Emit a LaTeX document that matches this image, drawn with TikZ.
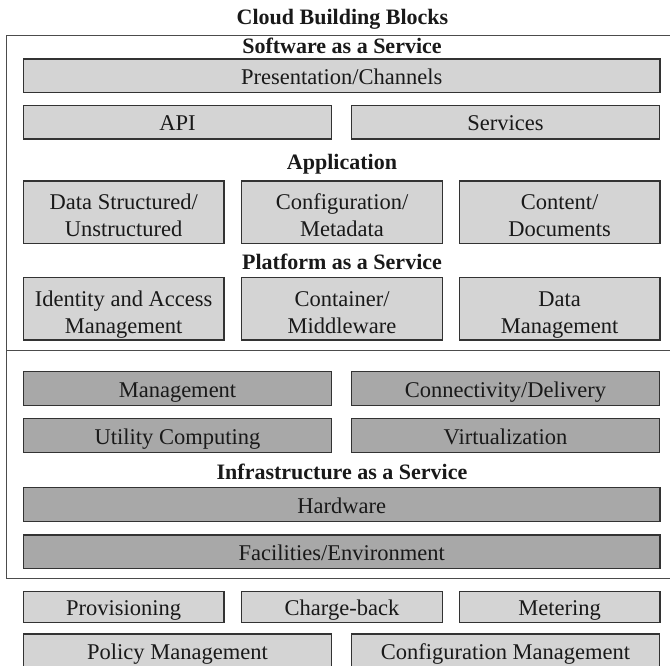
\documentclass[tikz,border=0pt]{standalone}
\usepackage{fontspec}
\setmainfont{Liberation Serif}
\usepackage{tikz}
\newcommand\topstrut{\rule{0pt}{27.3pt}}
\newcommand\botstrut{\rule[-5pt]{0pt}{5pt}}

\begin{document}
\begin{tikzpicture}[
        x=1pt, y=-1pt,
        block/.style={rectangle, draw=black!80, line width=1.2pt, align=center, inner sep=0pt, text=black!90, font=\fontsize{22.5}{27}\selectfont},
        lightblock/.style={block, fill=black!17},
        darkblock/.style={block, fill=black!34},
        oneline/.style={text height=18pt, text depth=0.5pt},
        full/.style={oneline, minimum width=636.7pt},
        half/.style={oneline, minimum width=308.5pt},
        third/.style={minimum width=200.7pt},
        layer/.style={oneline, inner sep=0pt, text=black!90, font=\fontsize{22}{26}\selectfont\bfseries},
        frame/.style={draw=black!70, line width=1.2pt}
    ]
        \path[use as bounding box, clip] (0,0) rectangle (670,665);

        \draw[frame] (6.7,35.7) rectangle (676,578.3);
        \draw[frame] (6.7,350.7) -- (676,350.7);

        \node[layer] (title) at (342.5,15.3) {Cloud Building Blocks};
        \node[layer] (saas) at (342,45) {Software as a Service};
        \node[lightblock, full, minimum height=33.3pt] (present) at (341.7,75.7) {Presentation/Channels};
        \node[lightblock, half, minimum height=33.7pt] (api) at (177.5,122.2) {API};
        \node[lightblock, half, minimum height=33.7pt] (services) at (505.5,122.2) {Services};

        \node[layer] (app) at (342,160.3) {Application};
        \node[lightblock, third, minimum height=62.5pt] (datastruct) at (123.7,212.2) {\topstrut Data Structured/\\Unstructured\botstrut};
        \node[lightblock, third, minimum height=62.5pt] (configmeta) at (342,212.2) {\topstrut Configuration/\\Metadata\botstrut};
        \node[lightblock, third, minimum height=62.5pt] (content) at (559.7,212.2) {\topstrut Content/\\Documents\botstrut};

        \node[layer] (paas) at (342,260.3) {Platform as a Service};
        \node[lightblock, third, minimum height=62.3pt] (identity) at (123.7,308.8) {\topstrut Identity and Access\\Management\botstrut};
        \node[lightblock, third, minimum height=62.3pt] (container) at (342,308.8) {\topstrut Container/\\Middleware\botstrut};
        \node[lightblock, third, minimum height=62.3pt] (datamgmt) at (559.7,308.8) {\topstrut Data\\Management\botstrut};

        \node[darkblock, half, minimum height=34pt] (mgmt) at (177.5,388.7) {Management};
        \node[darkblock, half, minimum height=34pt] (connect) at (505.5,388.7) {Connectivity/Delivery};
        \node[darkblock, half, minimum height=34.4pt] (utility) at (177.5,435.5) {Utility Computing};
        \node[darkblock, half, minimum height=34.4pt] (virtual) at (505.5,435.5) {Virtualization};

        \node[layer] (iaas) at (342,470.3) {Infrastructure as a Service};
        \node[darkblock, full, minimum height=34pt] (hardware) at (341.7,504.7) {Hardware};
        \node[darkblock, full, minimum height=33.3pt] (facilities) at (341.7,551.7) {Facilities/Environment};

        \node[lightblock, third, oneline, minimum height=31pt] (provision) at (123.7,607.2) {Provisioning};
        \node[lightblock, third, oneline, minimum height=31pt] (chargeback) at (342,607.2) {Charge-back};
        \node[lightblock, third, oneline, minimum height=31pt] (metering) at (559.7,607.2) {Metering};
        \node[lightblock, half, minimum height=34pt] (policy) at (177.5,651) {Policy Management};
        \node[lightblock, half, minimum height=34pt] (configmgmt) at (505.5,651) {Configuration Management};
    \end{tikzpicture}
\end{document}
